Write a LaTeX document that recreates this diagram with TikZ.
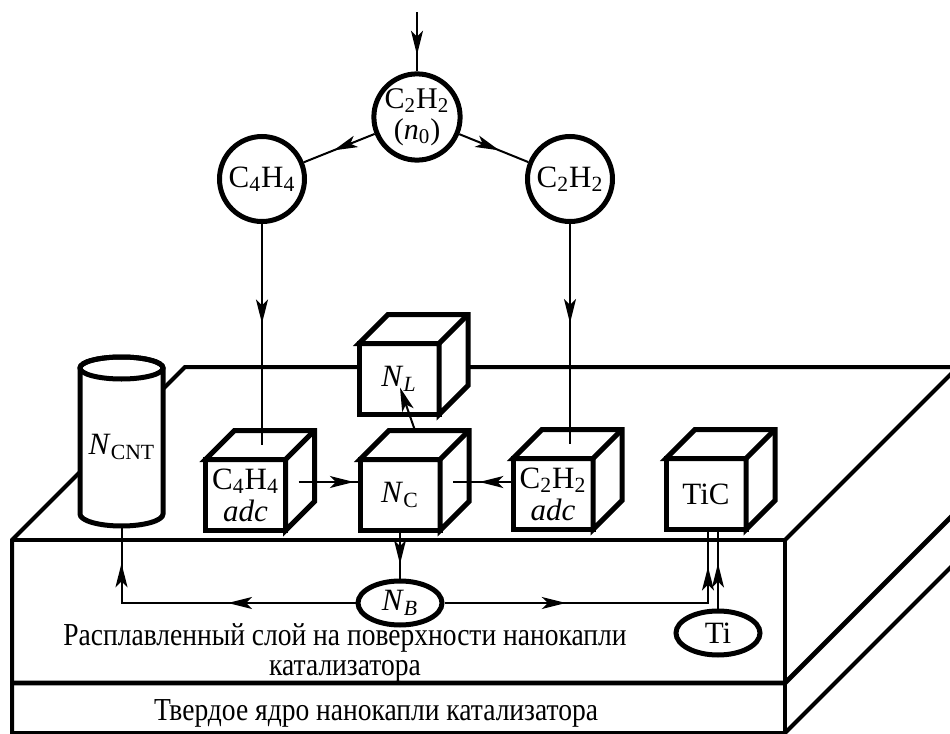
\documentclass[tikz,border=0pt]{standalone}
\usepackage{fontspec}
\setmainfont{Liberation Serif}
\newfontfamily\narrowserif{Liberation Serif}[FakeStretch=0.86]
\usetikzlibrary{arrows.meta,calc,decorations.markings,shapes.geometric}

\tikzset{
  link/.style={line width=1pt},
  slab/.style={line width=2pt},
  cubeline/.style={line width=2.5pt},
  midarrow/.style={postaction={decorate},decoration={markings,
      mark=at position #1 with {\arrow{Stealth[length=12pt,width=6pt,inset=3pt]}}}},
  midarrow/.default=0.5,
  twoarrows/.style 2 args={postaction={decorate},decoration={markings,
      mark=at position #1 with {\arrow{Stealth[length=12pt,width=6pt,inset=3pt]}},
      mark=at position #2 with {\arrow{Stealth[length=12pt,width=6pt,inset=3pt]}}}},
  bubble/.style={circle,draw,fill=white,line width=2.5pt,minimum size=42.5pt,inner sep=0pt,align=center},
  oval/.style={ellipse,draw,fill=white,line width=2.5pt,minimum width=42pt,minimum height=22pt,inner sep=0pt},
  cubebox/.style={draw,fill=white,cubeline,minimum width=40pt,minimum height=35.5pt,inner sep=0pt,outer sep=0pt,align=center}
}

% top and side faces of a cube node
\newcommand{\cubedepth}[1]{%
  \filldraw[cubeline,fill=white] (#1.north west) -- ++(29,-29) -- ($(#1.north east)+(29,-29)$)
    -- ($(#1.south east)+(29,-29)$) -- (#1.south east) -- (#1.north east) -- cycle;
  \draw[cubeline] (#1.north east) -- ++(29,-29);
  \coordinate (#1-top) at ($(#1.north)+(14.5,-14.5)$);
  \coordinate (#1-side) at ($(#1.east)+(13,-13)$);}

\begin{document}
\begin{tikzpicture}[x=0.5pt,y=-0.5pt,font=\fontsize{15.5}{16}\selectfont]
  \useasboundingbox (0,0) rectangle (950,734);
  \clip (0,0) rectangle (950,734);

  % catalyst drop
  \draw[slab] (1000,367) -- (185,367) -- (12,540) -- (12,750);
  \draw[slab] (12,540) -- (785,540) -- (785,750);
  \draw[slab] (785,540) -- ++(220,-220);
  \draw[line width=2.4pt] (12,683) -- (785,683) -- ++(220,-220);
  \draw[slab] (12,733) -- (785,733) -- ++(220,-220);

  % nanotube
  \filldraw[cubeline,fill=white] (80,368) -- (80,514)
    arc[start angle=180,end angle=360,x radius=20.75pt,y radius=6pt] -- (163,368)
    arc[start angle=0,end angle=180,x radius=20.75pt,y radius=5.5pt] -- cycle;
  \draw[cubeline] (121.5,368) ellipse[x radius=20.75pt,y radius=5.5pt];
  \node (cnt) at (122,447) {\textit{N}\textsubscript{CNT}};
  \coordinate (cntbot) at (121.5,526);

  \node[cubebox] (adcL) at (245.5,495) {C\textsubscript{4}H\textsubscript{4}\\\textit{adc}};
  \node[cubebox] (nc) at (400,495) {\textit{N}\textsubscript{C}};
  \node[cubebox] (adcR) at (553,494) {C\textsubscript{2}H\textsubscript{2}\\\textit{adc}};
  \node[cubebox] (tic) at (706,494) {TiC};
  \node[cubebox] (nl) at (399,379) {\textit{N}\textsubscript{\textit{L}}};
  \foreach \c in {adcL,nc,adcR,tic,nl}
    {\cubedepth{\c}}

  \node[bubble,font=\fontsize{15}{15.5}\selectfont] (src) at (417,117) {C\textsubscript{2}H\textsubscript{2}\\(\textit{n}\textsubscript{0})};
  \node[bubble] (c4h4) at (262,179) {C\textsubscript{4}H\textsubscript{4}};
  \node[bubble] (c2h2) at (570,179) {C\textsubscript{2}H\textsubscript{2}};
  \node[oval] (nb) at (400,603) {\textit{N}\textsubscript{\textit{B}}};
  \node[oval] (ti) at (718,633) {Ti};

  \node[align=center,font=\narrowserif\fontsize{16}{15}\selectfont] (melt) at (345,653)
    {Расплавленный слой на поверхности нанокапли\\катализатора};
  \node[font=\narrowserif\fontsize{16}{15}\selectfont] (core) at (376,713) {Твердое ядро нанокапли катализатора};

  \coordinate (feed) at (417,12);
  \coordinate (ticA) at ($(tic.south)+(2,0)$);
  \coordinate (ticB) at ($(tic.south)+(12,0)$);

  \draw[link,midarrow=0.72] (feed) -- (src);
  \draw[link,midarrow=0.58] (src) -- (c4h4);
  \draw[link,midarrow=0.58] (src) -- (c2h2);
  \draw[link,midarrow=0.45] (c4h4) -- (c4h4 |- adcL-top);
  \draw[link,midarrow=0.45] (c2h2) -- (c2h2 |- adcR-top);
  \draw[link,midarrow=0.9] (adcL-side) -- (adcL-side -| nc.west);
  \draw[link,midarrow=0.56] (adcR.west |- nc-side) -- (nc-side);
  \draw[link,-{Stealth[length=12pt,width=6pt,inset=3pt]}] ($(nc.north)+(15,-29)$) -- ($(nl.south)+(1,-27)$);
  \draw[link,midarrow=0.7] (nc) -- (nb);
  \draw[link,twoarrows={0.41}{0.88}] (nb) -- (cntbot |- nb) -- (cntbot);
  \draw[link,twoarrows={0.36}{0.89}] (nb) -- (ticA |- nb) -- (ticA);
  \draw[link,midarrow=0.57] (ti) -- (ticB);
\end{tikzpicture}
\end{document}
